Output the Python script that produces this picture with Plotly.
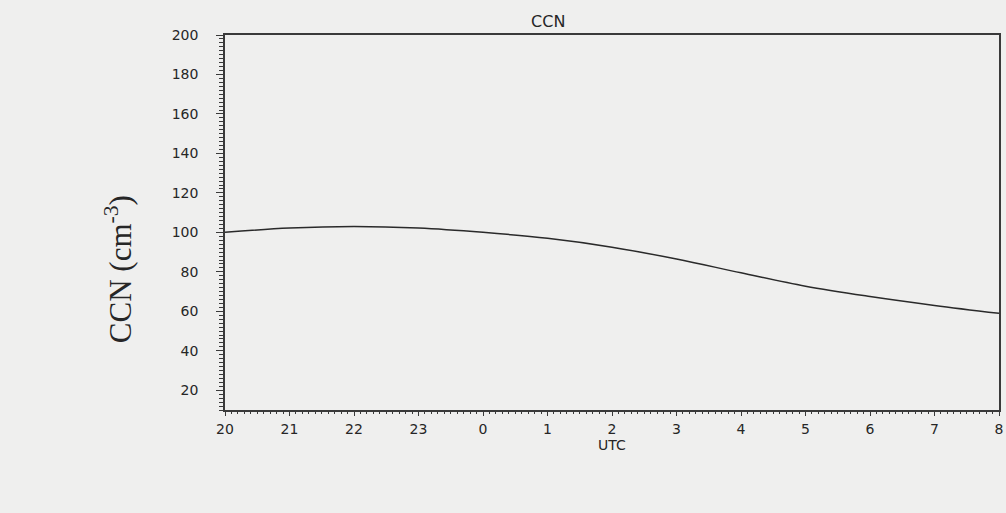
import plotly.graph_objects as go

# hours after 20 UTC (20..32 -> 20..8 UTC)
hours = [20, 21, 22, 23, 24, 25, 26, 27, 28, 29, 30, 31, 32]
ccn = [100, 102.2, 103, 102.2, 100, 97, 92.5, 86.5, 79.5, 72.7, 67.5, 63, 59]
x_tick_vals = [20, 21, 22, 23, 24, 25, 26, 27, 28, 29, 30, 31, 32]
x_tick_text = ["20", "21", "22", "23", "0", "1", "2", "3", "4", "5", "6", "7", "8"]
y_tick_vals = [20, 40, 60, 80, 100, 120, 140, 160, 180, 200]

bg = "#efefee"
axc = "#3a3a3a"
txt = "#262626"
sans = "DejaVu Sans, Verdana, Arial"

fig = go.Figure()
fig.add_trace(go.Scatter(x=hours, y=ccn, mode="lines",
                         line=dict(color="#2a2a2a", width=1.5, shape="spline"),
                         showlegend=False, hoverinfo="skip"))

fig.update_layout(
    width=1006, height=513,
    paper_bgcolor=bg, plot_bgcolor=bg,
    margin=dict(l=225, r=3, t=35, b=103),
    title=dict(text="CCN", x=0.545, xanchor="center", y=0.959, yanchor="middle",
               font=dict(family=sans, size=16, color=txt)),
    font=dict(family=sans, size=14, color=txt),
)
fig.add_annotation(text="CCN (cm<sup>-3</sup>)", xref="paper", yref="paper",
                   x=-0.138, y=0.376, xanchor="center", yanchor="middle",
                   textangle=-90, showarrow=False,
                   font=dict(family="Liberation Serif, Times New Roman", size=31, color=txt))
fig.update_xaxes(range=[20, 32], tickvals=x_tick_vals, ticktext=x_tick_text,
                 showgrid=False, zeroline=False, showline=True, linecolor=axc, linewidth=1.5,
                 mirror=True, ticks="outside", ticklen=4, tickcolor=axc, ticklabelstandoff=1,
                 minor=dict(dtick=0.1, ticks="outside", ticklen=2, tickcolor=axc, showgrid=False),
                 tickfont=dict(size=14, color=txt),
                 title=dict(text="UTC", font=dict(size=14, color=txt), standoff=4))
fig.update_yaxes(range=[10, 200], tickvals=y_tick_vals,
                 showgrid=False, zeroline=False, showline=True, linecolor=axc, linewidth=1.5,
                 mirror=True, ticks="outside", ticklen=7, tickcolor=axc, ticklabelstandoff=15,
                 minor=dict(dtick=2, ticks="outside", ticklen=4, tickcolor=axc, showgrid=False),
                 tickfont=dict(size=14, color=txt))

fig.write_html("out.html")
